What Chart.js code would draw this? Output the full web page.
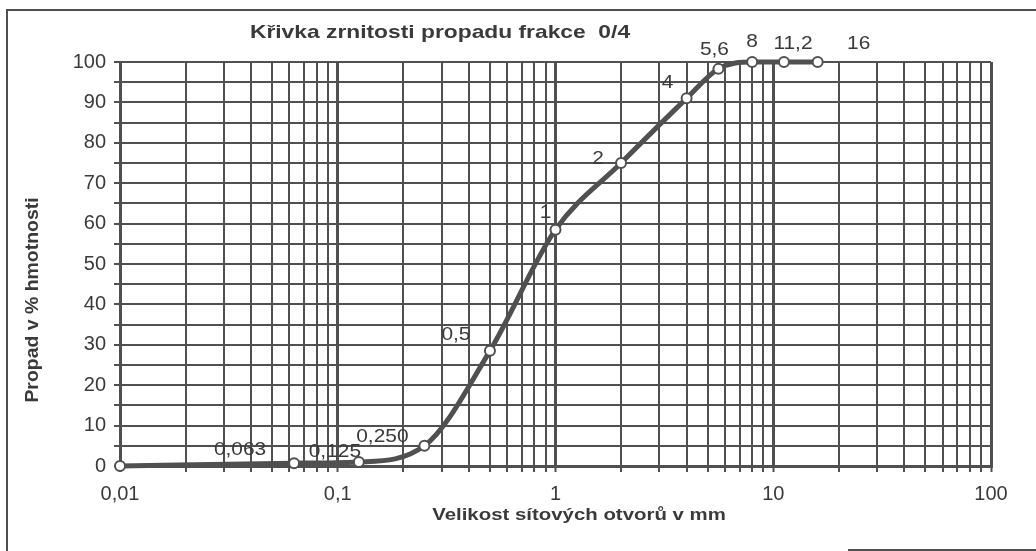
<!DOCTYPE html>
<html>
<head>
<meta charset="utf-8">
<script src="https://cdn.jsdelivr.net/npm/chart.js@4"></script>
<style>
  html, body { margin: 0; padding: 0; background: #fff; }
  #wrap { width: 1036px; height: 551px; }
</style>
</head>
<body>
<div id="wrap"><canvas id="grain" width="1036" height="551"></canvas></div>
<script>
// velikost sít (mm) a propad (%)
const sieveSizes = [0.01, 0.063, 0.125, 0.25, 0.5, 1, 2, 4, 5.6, 8, 11.2, 16];
const passing = [0, 0.7, 1, 5, 28.5, 58.5, 75, 91, 98.3, 100, 100, 100];
const pointLabels = ["", "0,063", "0,125", "0,250", "0,5", "1", "2", "4", "5,6", "8", "11,2", "16"];
const decadeValues = [0.01, 0.1, 1, 10, 100];
const decadeLabels = ["0,01", "0,1", "1", "10", "100"];

// posun popisku bodu od bodu (px)
const labelOffsets = [[0, 0], [-54, -13], [-24, -10], [-42, -9], [-34, -16], [-10, -17],
  [-23, -4], [-19, -16], [-4, -19], [0, -20], [9, -18], [41, -18]];

const INK = "#505050";
const TEXT = "#3a3a3a";
const FONT = "'Liberation Sans', Arial, sans-serif";

const isDecade = v => decadeValues.some(d => Math.abs(d - v) / d < 1e-6);

// text trochu roztažený do šířky jako na předloze
function wideText(c, txt, x, y, sx) {
  c.save();
  c.translate(x, y);
  c.scale(sx, 1);
  c.fillText(txt, 0, 0);
  c.restore();
}

// rámeček, nadpis, popisky os a bodů
const decorPlugin = {
  id: "decor",
  beforeDraw(chart) {
    const c = chart.ctx;
    c.save();
    c.strokeStyle = INK;
    c.lineWidth = 2;
    c.beginPath();
    c.moveTo(7, 551); c.lineTo(7, 10); c.lineTo(1036, 10);
    c.moveTo(848, 550); c.lineTo(1036, 550);
    c.stroke();
    c.restore();
  },
  afterDraw(chart) {
    const c = chart.ctx;
    c.save();
    c.fillStyle = TEXT;
    c.textAlign = "center";
    c.textBaseline = "middle";
    c.font = "bold 19px " + FONT;
    wideText(c, "Křivka zrnitosti propadu frakce  0/4", 440, 33, 1.2);
    c.font = "bold 17px " + FONT;
    wideText(c, "Velikost sítových otvorů v mm", 579, 515, 1.2);
    c.save();
    c.translate(33, 300);
    c.rotate(-Math.PI / 2);
    c.font = "bold 18px " + FONT;
    wideText(c, "Propad v % hmotnosti", 0, 0, 1.08);
    c.restore();

    c.font = "19px " + FONT;
    const pts = chart.getDatasetMeta(0).data;
    pts.forEach((p, i) => {
      if (!pointLabels[i]) return;
      wideText(c, pointLabels[i], p.x + labelOffsets[i][0], p.y + labelOffsets[i][1], 1.1);
    });
    c.restore();
  }
};

new Chart(document.getElementById("grain"), {
  type: "scatter",
  data: {
    datasets: [{
      data: sieveSizes.map((s, i) => ({ x: s, y: passing[i] })),
      showLine: true,
      borderColor: INK,
      borderWidth: 5,
      cubicInterpolationMode: "monotone",
      pointRadius: 5,
      pointBackgroundColor: "#fff",
      pointBorderColor: INK,
      pointBorderWidth: 2,
      clip: false
    }]
  },
  options: {
    responsive: false,
    animation: false,
    devicePixelRatio: 1,
    layout: { padding: { top: 62, right: 45, left: 0, bottom: 0 } },
    plugins: { legend: { display: false }, tooltip: { enabled: false }, title: { display: false } },
    scales: {
      x: {
        type: "logarithmic",
        min: 0.01,
        max: 100,
        afterBuildTicks(scale) {
          const ticks = [];
          for (let e = -2; e < 2; e++) {
            for (let m = 1; m <= 9; m++) ticks.push({ value: m * Math.pow(10, e) });
          }
          ticks.push({ value: 100 });
          scale.ticks = ticks;
        },
        afterFit(scale) { scale.height = 85; },
        ticks: {
          autoSkip: false,
          maxRotation: 0,
          padding: 10,
          color: TEXT,
          font: { size: 20, family: FONT },
          callback(v) {
            const k = decadeValues.findIndex(d => Math.abs(d - v) / d < 1e-6);
            return k >= 0 ? decadeLabels[k] : "";
          }
        },
        grid: {
          color: INK,
          lineWidth: ctx => (ctx.tick && isDecade(ctx.tick.value) ? 3 : 2),
          tickLength: 6,
          tickWidth: 2,
          tickColor: INK
        },
        border: { color: INK, width: 3 }
      },
      y: {
        min: 0,
        max: 100,
        afterFit(scale) { scale.width = 120; },
        ticks: {
          stepSize: 5,
          autoSkip: false,
          padding: 8,
          color: TEXT,
          font: { size: 20, family: FONT },
          callback: v => (v % 10 === 0 ? String(v) : "")
        },
        grid: {
          color: INK,
          lineWidth: 2,
          tickLength: 6,
          tickWidth: 2,
          tickColor: INK
        },
        border: { color: INK, width: 3 }
      }
    }
  },
  plugins: [decorPlugin]
});
</script>
</body>
</html>
